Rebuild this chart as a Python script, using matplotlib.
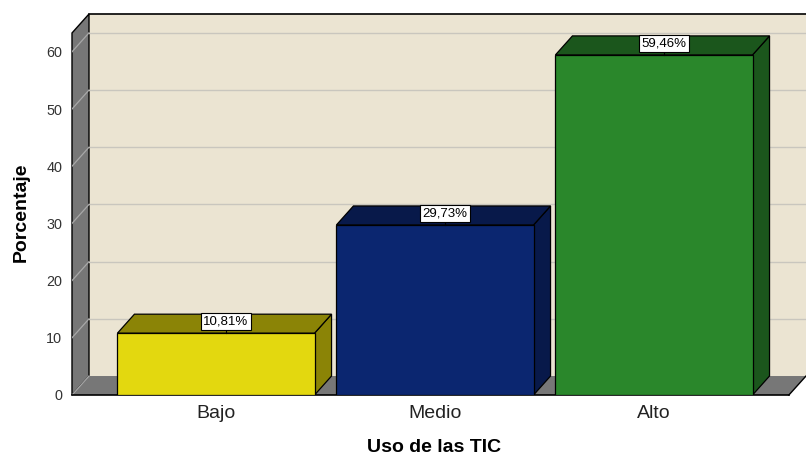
import matplotlib.pyplot as plt
from matplotlib.patches import Polygon

categorias = ['Bajo', 'Medio', 'Alto']
porcentajes = [10.81, 29.73, 59.46]
etiquetas = ['10,81%', '29,73%', '59,46%']
y_ticks = [0, 10, 20, 30, 40, 50, 60]

color_frente = ['#E3D80F', '#0B2670', '#2A872B']
color_lado = ['#8B8406', '#08194A', '#1B561C']

plt.rcParams['font.family'] = ['Liberation Sans', 'DejaVu Sans']

fig = plt.figure(figsize=(8.06, 4.57), dpi=100)
ax = fig.add_axes([72 / 806, 62 / 457, 734 / 806, 381 / 457])

# limites y profundidad del efecto 3D
xl, xr = -0.6575, 2.6941
ytop = 66.61
dx, dy = 0.0776, 3.32
xf = 2.616
ancho = 0.9

ax.set_xlim(xl, xr)
ax.set_ylim(0, ytop)
for s in ax.spines.values():
    s.set_visible(False)
ax.patch.set_alpha(0)

# paredes
ax.add_patch(Polygon([(xl + dx, dy), (xr, dy), (xr, ytop), (xl + dx, ytop)],
                     closed=True, fc='#EBE4D2', ec='none', zorder=0))
ax.add_patch(Polygon([(xl, 0), (xl + dx, dy), (xl + dx, ytop), (xl, ytop - dy)],
                     closed=True, fc='#777777', ec='black', lw=1.0, zorder=1, clip_on=False))
ax.add_patch(Polygon([(xl, 0), (xl + dx, dy), (xr, dy), (xf, 0)],
                     closed=True, fc='#777777', ec='none', zorder=1, clip_on=False))
ax.plot([xl, xf], [0, 0], color='black', lw=1.2, zorder=2, clip_on=False)
ax.plot([xf, xr], [0, dy], color='black', lw=1.0, zorder=2, clip_on=False)
ax.plot([xl + dx, xr], [ytop, ytop], color='black', lw=1.2, zorder=2, clip_on=False)

# lineas de cuadricula
for v in y_ticks:
    if v > 0:
        ax.plot([xl + dx, xr], [v + dy, v + dy], color='#C9C6BE', lw=1.0, zorder=1)
    ax.plot([xl, xl + dx], [v, v + dy], color='#A8A8A8', lw=0.9, zorder=1.5)

# barras 3D
for i, v in enumerate(porcentajes):
    x0, x1 = i - ancho / 2, i + ancho / 2
    ax.add_patch(Polygon([(x1, 0), (x1 + dx, dy), (x1 + dx, v + dy), (x1, v)],
                         closed=True, fc=color_lado[i], ec='black', lw=0.9, zorder=3))
    ax.add_patch(Polygon([(x0, v), (x0 + dx, v + dy), (x1 + dx, v + dy), (x1, v)],
                         closed=True, fc=color_lado[i], ec='black', lw=0.9, zorder=3))
    ax.add_patch(Polygon([(x0, 0), (x1, 0), (x1, v), (x0, v)],
                         closed=True, fc=color_frente[i], ec='black', lw=0.9, zorder=4))
    lx = i + 0.045
    ax.plot([lx, lx], [v, v + 1.2], color='black', lw=0.8, zorder=5)
    ax.text(lx, v + 2.0, etiquetas[i], ha='center', va='center', fontsize=9.5,
            color='black', zorder=6,
            bbox=dict(boxstyle='square,pad=0.18', fc='white', ec='black', lw=0.8))

ax.set_yticks(y_ticks)
ax.set_yticklabels([str(t) for t in y_ticks], fontsize=10.4, color='#333333')
ax.set_xticks(range(len(categorias)))
ax.set_xticklabels(categorias, fontsize=14, color='#222222')
ax.tick_params(axis='y', length=0, pad=7)
ax.tick_params(axis='x', length=0, pad=7)

fig.text(21 / 806, 1 - 212 / 457, 'Porcentaje', rotation=90, ha='center', va='center',
         fontsize=14, fontweight='bold', color='black')
fig.text(434 / 806, 1 - 448 / 457, 'Uso de las TIC', ha='center', va='center',
         fontsize=14, fontweight='bold', color='black')

fig.savefig('out.png', dpi=100, facecolor='white')
